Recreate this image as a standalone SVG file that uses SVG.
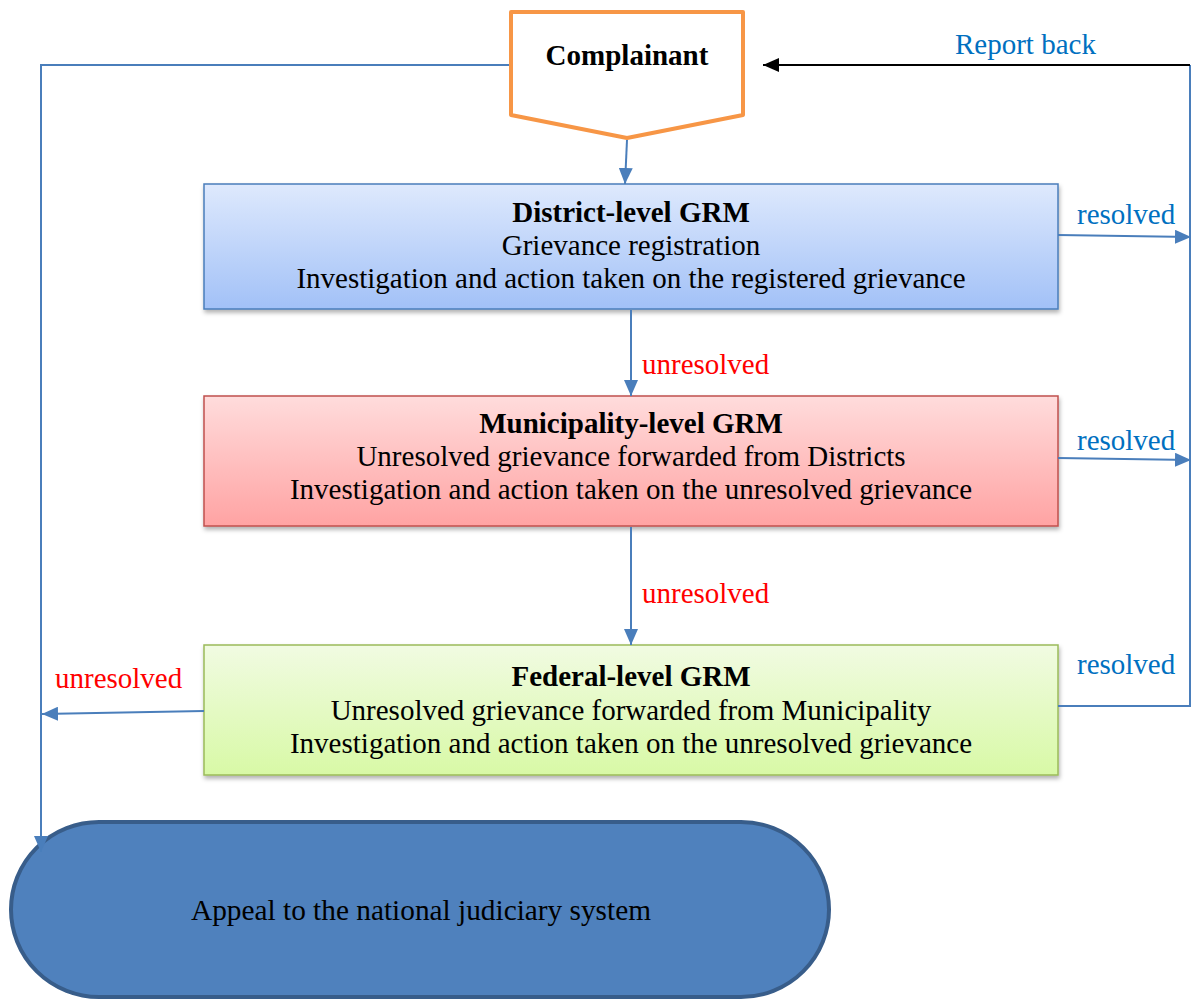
<svg xmlns="http://www.w3.org/2000/svg" width="1192" height="1001" viewBox="0 0 1192 1001" font-family="'Liberation Serif', 'Times New Roman', serif" font-size="29">
<style>
.t{font-family:'Liberation Serif','Times New Roman',serif;font-size:29px;fill:#000}
.b{font-weight:bold}
.red{fill:#FF0000}
.blu{fill:#0070C0}
.ln{fill:none;stroke:#4A7EBB;stroke-width:2}
.box{stroke-width:1.5}
</style>
<defs>
<linearGradient id="gB" x1="0" y1="0" x2="0" y2="1"><stop offset="0" stop-color="#DEE9FD"/><stop offset="1" stop-color="#A2C1F7"/></linearGradient>
<linearGradient id="gR" x1="0" y1="0" x2="0" y2="1"><stop offset="0" stop-color="#FFDCDC"/><stop offset="1" stop-color="#FFA3A3"/></linearGradient>
<linearGradient id="gG" x1="0" y1="0" x2="0" y2="1"><stop offset="0" stop-color="#F1FBE2"/><stop offset="1" stop-color="#D8F9A6"/></linearGradient>
<filter id="sh" x="-5%" y="-10%" width="110%" height="130%"><feDropShadow dx="1" dy="3" stdDeviation="2" flood-color="#000" flood-opacity="0.3"/></filter>
<marker id="ab" viewBox="0 0 10 10" refX="10" refY="5" markerWidth="16" markerHeight="14" orient="auto" markerUnits="userSpaceOnUse" preserveAspectRatio="none"><path d="M0,0 L10,5 L0,10 z" fill="#4A7EBB"/></marker>
<marker id="abl" viewBox="0 0 10 10" refX="10" refY="5" markerWidth="16" markerHeight="14" orient="auto" markerUnits="userSpaceOnUse" preserveAspectRatio="none"><path d="M0,0 L10,5 L0,10 z" fill="#000"/></marker>
</defs>
<g id="complainant">
<path d="M511,12 L743,12 L743,115 L627,138 L511,115 Z" fill="#fff" stroke="#F79646" stroke-width="4" stroke-linejoin="round"/>
<text class="t b" x="627" y="65" text-anchor="middle">Complainant</text>
</g>
<g id="district">
<rect class="box" x="204" y="184" width="854" height="125" fill="url(#gB)" stroke="#4A7EBB" filter="url(#sh)"/>
<text class="t b" x="631" y="222" text-anchor="middle">District-level GRM</text>
<text class="t" x="631" y="255" text-anchor="middle">Grievance registration</text>
<text class="t" x="631" y="288" text-anchor="middle">Investigation and action taken on the registered grievance</text>
</g>
<g id="municipality">
<rect class="box" x="204" y="396" width="854" height="130" fill="url(#gR)" stroke="#C0504D" filter="url(#sh)"/>
<text class="t b" x="631" y="433" text-anchor="middle">Municipality-level GRM</text>
<text class="t" x="631" y="466" text-anchor="middle">Unresolved grievance forwarded from Districts</text>
<text class="t" x="631" y="499" text-anchor="middle">Investigation and action taken on the unresolved grievance</text>
</g>
<g id="federal">
<rect class="box" x="204" y="645" width="854" height="130" fill="url(#gG)" stroke="#9BBB59" filter="url(#sh)"/>
<text class="t b" x="631" y="686" text-anchor="middle">Federal-level GRM</text>
<text class="t" x="631" y="720" text-anchor="middle">Unresolved grievance forwarded from Municipality</text>
<text class="t" x="631" y="753" text-anchor="middle">Investigation and action taken on the unresolved grievance</text>
</g>
<g id="appeal">
<rect x="11" y="822" width="818" height="175" rx="88" ry="88" fill="#4F81BD" stroke="#385D8A" stroke-width="4"/>
<text class="t" x="421" y="920" text-anchor="middle" textLength="460" lengthAdjust="spacingAndGlyphs">Appeal to the national judiciary system</text>
</g>
<g id="connectors">
<path class="ln" d="M509,65 L41,65 L41,852" marker-end="url(#ab)"/>
<path class="ln" d="M627,140 L625,184" marker-end="url(#ab)"/>
<path class="ln" d="M631,310 L631,396" marker-end="url(#ab)"/>
<path class="ln" d="M631,527 L631,645" marker-end="url(#ab)"/>
<path class="ln" d="M204,711 L42,714" marker-end="url(#ab)"/>
<path class="ln" d="M1058,235 L1191,237" marker-end="url(#ab)"/>
<path class="ln" d="M1058,458 L1191,460" marker-end="url(#ab)"/>
<path class="ln" d="M1058,706 L1190,706 L1190,65"/>
<path fill="none" stroke="#000" stroke-width="2" d="M1190,65 L763,65" marker-end="url(#abl)"/>
<text class="t red" x="642" y="374">unresolved</text>
<text class="t red" x="642" y="603">unresolved</text>
<text class="t red" x="55" y="688">unresolved</text>
<text class="t blu" x="1077" y="224">resolved</text>
<text class="t blu" x="1077" y="450">resolved</text>
<text class="t blu" x="1077" y="674">resolved</text>
<text class="t blu" x="955" y="54">Report back</text>
</g>
</svg>
